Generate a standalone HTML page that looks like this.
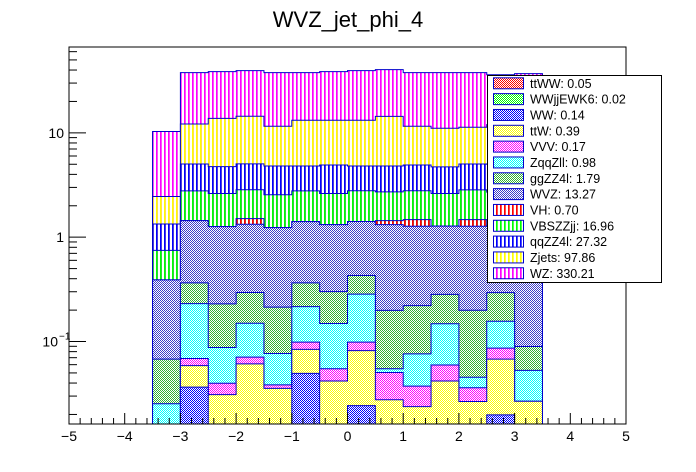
<!DOCTYPE html>
<html><head><meta charset="utf-8"><style>
html,body{margin:0;padding:0;background:#fff;}
svg{display:block;font-family:"Liberation Sans",Arial,sans-serif;}
</style></head><body>
<svg id="chart" width="696" height="472" viewBox="0 0 696 472" xmlns="http://www.w3.org/2000/svg">
<defs>
<pattern id="p-mag-v" patternUnits="userSpaceOnUse" width="4" height="4"><rect x="0" y="0" width="1.7" height="4" fill="#ff00ff"/></pattern>
<pattern id="p-yel-v" patternUnits="userSpaceOnUse" width="4" height="4"><rect x="0" y="0" width="1.7" height="4" fill="#ffff00"/></pattern>
<pattern id="p-blu-v" patternUnits="userSpaceOnUse" width="4" height="4"><rect x="0" y="0" width="1.7" height="4" fill="#0000ff"/></pattern>
<pattern id="p-grn-v" patternUnits="userSpaceOnUse" width="4" height="4"><rect x="0" y="0" width="1.7" height="4" fill="#00ff00"/></pattern>
<pattern id="p-red-v" patternUnits="userSpaceOnUse" width="4" height="4"><rect x="0" y="0" width="1.7" height="4" fill="#ff0000"/></pattern>
<pattern id="p-wvz" patternUnits="userSpaceOnUse" width="2" height="2"><rect width="2" height="2" fill="#fff"/><rect x="0" y="0" width="1" height="1" fill="#3c3cc8"/><rect x="1" y="1" width="1" height="1" fill="#3c3cc8"/></pattern>
<pattern id="p-gg" patternUnits="userSpaceOnUse" width="2" height="2"><rect width="2" height="2" fill="#fff"/><rect x="0" y="0" width="1" height="1" fill="#33b033"/><rect x="1" y="1" width="1" height="1" fill="#33b033"/></pattern>
<pattern id="p-cy" patternUnits="userSpaceOnUse" width="2" height="2"><rect width="2" height="2" fill="#fff"/><rect x="0" y="0" width="1" height="1" fill="#00ffff"/><rect x="1" y="1" width="1" height="1" fill="#00ffff"/></pattern>
<pattern id="p-mg" patternUnits="userSpaceOnUse" width="2" height="2"><rect width="2" height="2" fill="#fff"/><rect x="0" y="0" width="1" height="1" fill="#ff00ff"/><rect x="1" y="1" width="1" height="1" fill="#ff00ff"/></pattern>
<pattern id="p-yl" patternUnits="userSpaceOnUse" width="2" height="2"><rect width="2" height="2" fill="#fff"/><rect x="0" y="0" width="1" height="1" fill="#ffff00"/><rect x="1" y="1" width="1" height="1" fill="#ffff00"/></pattern>
<pattern id="p-bl" patternUnits="userSpaceOnUse" width="2" height="2"><rect width="2" height="2" fill="#fff"/><rect x="0" y="0" width="1" height="1" fill="#0000ff"/><rect x="1" y="1" width="1" height="1" fill="#0000ff"/></pattern>
<pattern id="p-gr" patternUnits="userSpaceOnUse" width="2" height="2"><rect width="2" height="2" fill="#fff"/><rect x="0" y="0" width="1" height="1" fill="#00ff00"/><rect x="1" y="1" width="1" height="1" fill="#00ff00"/></pattern>
<pattern id="p-rd" patternUnits="userSpaceOnUse" width="2" height="2"><rect width="2" height="2" fill="#fff"/><rect x="0" y="0" width="1" height="1" fill="#ff0000"/><rect x="1" y="1" width="1" height="1" fill="#ff0000"/></pattern>
<clipPath id="frame-clip"><rect x="69" y="47" width="557" height="377"/></clipPath>
</defs>
<text x="348" y="27" font-size="22" text-anchor="middle" fill="#000">WVZ_jet_phi_4</text>
<g id="bars" clip-path="url(#frame-clip)"></g>
<g id="axes"></g>
<g id="legend"></g>
</svg>
<script>
// bin edges: 14 bins from -3.5 to 3.5
const binLow = [-3.5,-3,-2.5,-2,-1.5,-1,-0.5,0,0.5,1,1.5,2,2.5,3];
const binWidth = 0.5;
// process names, bottom of stack first
const processNames = ["ttWW","WWjjEWK6","WW","ttW","VVV","ZqqZll","ggZZ4l","WVZ","VH","VBSZZjj","qqZZ4l","Zjets","WZ"];
const legendLabels = ["ttWW: 0.05","WWjjEWK6: 0.02","WW: 0.14","ttW: 0.39","VVV: 0.17","ZqqZll: 0.98","ggZZ4l: 1.79","WVZ: 13.27","VH: 0.70","VBSZZjj: 16.96","qqZZ4l: 27.32","Zjets: 97.86","WZ: 330.21"];
// per-process bin contents
const ttWW    = [0,0,0,0,0,0,0.002,0.003,0.002,0,0.003,0,0.002,0];
const WWjj    = [0,0.001,0,0.002,0,0.001,0,0.002,0,0.001,0,0.002,0,0];
const WW      = [0,0.0356,0,0,0,0.0485,0,0.0193,0,0,0,0,0.0178,0];
const ttW     = [0,0.0221,0.0310,0.0590,0.0356,0.0347,0.0398,0.0575,0.0257,0.0228,0.0389,0.0246,0.0481,0.0268];
const VVV     = [0,0.0101,0.0088,0.0098,0.0028,0.0146,0.0131,0.0168,0.0228,0.0136,0.0176,0.0095,0.0186,0];
const ZqqZll  = [0.0253,0.162,0.0478,0.079,0.0384,0.117,0.094,0.186,0.0044,0.0387,0.0885,0.0093,0.070,0.0261];
const ggZZ4l  = [0.0425,0.134,0.142,0.145,0.137,0.149,0.152,0.145,0.144,0.145,0.135,0.154,0.138,0.0367];
const WVZ     = [0.322,1.076,1.032,1.036,1.021,1.045,1.02,0.984,1.122,1.052,0.992,1.075,1.007,1.21];
const VH      = [0,0,0,0.175,0,0,0,0,0.121,0.20,0,0.20,0,0];
const VBSZZjj = [0.357,1.34,1.36,1.34,1.315,1.37,1.30,1.37,1.28,1.31,1.35,1.37,1.4,1.4];
const qqZZ4l  = [0.59,2.25,2.12,2.19,2.26,2.03,2.30,2.03,2.09,2.14,2.09,2.19,2.3,2.2];
const Zjets   = [1.12,7.14,9.04,9.37,6.76,8.38,8.27,8.38,9.59,6.65,6.36,6.28,7.0,7.1];
const WZ      = [7.84,25.6,24.8,25.1,26.2,24.6,25.4,26.3,26.0,26.2,26.7,26.5,24.0,25.0];
const xTicks = [-5,-4,-3,-2,-1,0,1,2,3,4,5];
const yTickVals = [0.1,1,10];
const yTickLabels = ["10","1","10"];

const series = [ttWW,WWjj,WW,ttW,VVV,ZqqZll,ggZZ4l,WVZ,VH,VBSZZjj,qqZZ4l,Zjets,WZ];
const fills = ["url(#p-rd)","url(#p-gr)","url(#p-bl)","url(#p-yl)","url(#p-mg)","url(#p-cy)","url(#p-gg)","url(#p-wvz)","url(#p-red-v)","url(#p-grn-v)","url(#p-blu-v)","url(#p-yel-v)","url(#p-mag-v)"];
const NS = "http://www.w3.org/2000/svg";
const X0=69, X1=626, Y0=47, Y1=424;
const xMin=-5, xMax=5;
const logMin = Math.log10(0.0162), logMax = Math.log10(66.5);
function xs(v){ return X0 + (v-xMin)/(xMax-xMin)*(X1-X0); }
function ys(v){ if(v<=0) return Y1+5; const l=Math.log10(v); return Y1 - (l-logMin)/(logMax-logMin)*(Y1-Y0); }
function mk(tag, attrs){ const e=document.createElementNS(NS,tag); for(const k in attrs) e.setAttribute(k,attrs[k]); return e; }

// cumulative sums
const cum = [];
let run = binLow.map(()=>0);
for (let s=0;s<series.length;s++){ run = run.map((r,i)=>r+series[s][i]); cum.push(run.slice()); }

const bars = document.getElementById('bars');
for (let s=series.length-1;s>=0;s--){
  let d = "M"+xs(binLow[0])+","+(Y1+5);
  for (let i=0;i<binLow.length;i++){
    const y = Math.min(ys(cum[s][i]), Y1+5);
    d += " L"+xs(binLow[i])+","+y+" L"+xs(binLow[i]+binWidth)+","+y;
  }
  d += " L"+xs(binLow[binLow.length-1]+binWidth)+","+(Y1+5)+" Z";
  const p = mk('path',{d:d, fill:fills[s], stroke:"#0000cc", "stroke-width":"1"});
  
  
  bars.appendChild(p);
}

// axes
const axes = document.getElementById('axes');
const frame = mk('rect',{x:X0,y:Y0,width:X1-X0,height:Y1-Y0,fill:"none",stroke:"#000","stroke-width":"1"});


axes.appendChild(frame);
for (let t=xMin*5;t<=xMax*5;t++){
  const v=t/5, major=(t%5===0);
  const x=xs(v);
  const tk = mk('line',{x1:x,x2:x,y1:Y1,y2:Y1-(major?11:6),stroke:"#000","stroke-width":"1"});
  
  
  axes.appendChild(tk);
}
xTicks.forEach(v=>{
  const lb = mk('text',{x:xs(v),y:441,"font-size":"14","text-anchor":"middle",fill:"#000"});
  lb.textContent = (v<0?"\u2212"+Math.abs(v):String(v));
  
  
  axes.appendChild(lb);
});
for (let dec=-2; dec<=1; dec++){
  for (let m=1;m<=9;m++){
    const v=m*Math.pow(10,dec);
    const y=ys(v);
    if (y<Y0-0.5||y>Y1+0.5) continue;
    const tk = mk('line',{x1:X0,x2:X0+(m===1?17:8),y1:y,y2:y,stroke:"#000","stroke-width":"1"});
    
    
    axes.appendChild(tk);
  }
}
yTickVals.forEach((v,i)=>{
  const y=ys(v);
  const lb = mk('text',{x:(v<1?58:64),y:y+5,"font-size":"14","text-anchor":"end",fill:"#000"});
  lb.textContent = yTickLabels[i];
  
  
  axes.appendChild(lb);
  if (v<1){
    const ex = mk('text',{x:59,y:y-2,"font-size":"10","text-anchor":"start",fill:"#000"});
    ex.textContent = "\u22121";
    
    
    axes.appendChild(ex);
  }
});

// legend
const lg = document.getElementById('legend');
const box = mk('rect',{x:487.5,y:75.5,width:174,height:207,fill:"#fff",stroke:"#000","stroke-width":"1"});


lg.appendChild(box);
for (let i=0;i<processNames.length;i++){
  const cy = 83.3 + i*15.83;
  const sw = mk('rect',{x:493.5,y:cy-5.5,width:30,height:11,fill:fills[i],stroke:"#0000cc","stroke-width":"1"});
  
  
  lg.appendChild(sw);
  const tx = mk('text',{x:530,y:cy+4.5,"font-size":"12.5",fill:"#000"});
  tx.textContent = legendLabels[i];
  
  
  lg.appendChild(tx);
}
</script>
</body></html>
